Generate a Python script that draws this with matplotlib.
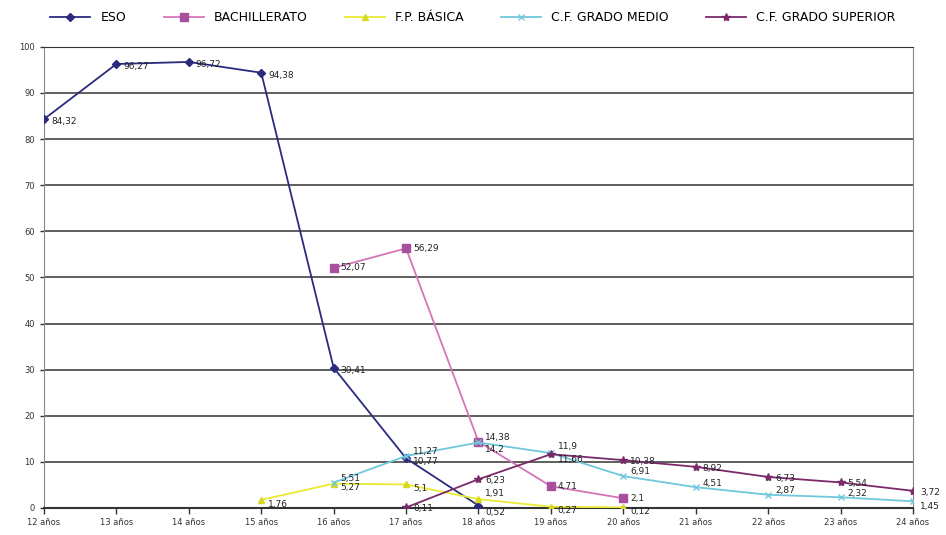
import matplotlib
matplotlib.use("Agg")
import matplotlib.pyplot as plt
import numpy as np

# categorias (edades) y series
edades = ["12 años", "13 años", "14 años", "15 años", "16 años", "17 años", "18 años",
          "19 años", "20 años", "21 años", "22 años", "23 años", "24 años"]

eso = [84.32, 96.27, 96.72, 94.38, 30.41, 10.77, 0.52, None, None, None, None, None, None]
bachillerato = [None, None, None, None, 52.07, 56.29, 14.38, 4.71, 2.1, None, None, None, None]
fp_basica = [None, None, None, 1.76, 5.27, 5.1, 1.91, 0.27, 0.12, None, None, None, None]
grado_medio = [None, None, None, None, 5.51, 11.27, 14.2, 11.9, 6.91, 4.51, 2.87, 2.32, 1.45]
grado_superior = [None, None, None, None, None, 0.11, 6.23, 11.66, 10.38, 8.92, 6.73, 5.54, 3.72]

# (nombre, valores, color linea, color marcador, marcador, tamaño, desplazamiento vertical etiqueta)
series = [
    ("ESO", eso, "#2B2B7E", "#2B2B7E", "D", 4, -2),
    ("BACHILLERATO", bachillerato, "#D475B8", "#A8509E", "s", 6, 0),
    ("F.P. BÁSICA", fp_basica, "#EAEA30", "#D8D820", "^", 5, -3),
    ("C.F. GRADO MEDIO", grado_medio, "#70C8DC", "#70C8DC", "x", 5, 3),
    ("C.F. GRADO SUPERIOR", grado_superior, "#7A2A6A", "#7A2A6A", "*", 6, -1),
]
# ajustes puntuales para que las etiquetas no se pisen
ajuste_dy = {("ESO", 6): -5, ("BACHILLERATO", 6): 3, ("F.P. BÁSICA", 6): 4,
             ("C.F. GRADO MEDIO", 6): -5, ("C.F. GRADO MEDIO", 7): 5,
             ("C.F. GRADO SUPERIOR", 7): -4, ("C.F. GRADO MEDIO", 12): -4}

fig = plt.figure(figsize=(9.46, 5.35), dpi=100)
ax = fig.add_axes([0.0465, 0.0505, 0.9186, 0.862])

x = np.arange(len(edades))
for name, vals, lc, mc, mk, ms, dy in series:
    xs = [i for i, v in zip(x, vals) if v is not None]
    ys = [v for v in vals if v is not None]
    ax.plot(xs, ys, color=lc, lw=1.3, marker=mk, markersize=ms,
            markerfacecolor=mc, markeredgecolor=mc, label=name, zorder=3)
    for xi, yi in zip(xs, ys):
        d = ajuste_dy.get((name, int(xi)), dy)
        ax.annotate(f"{yi:g}".replace(".", ","), (xi, yi), xytext=(5, d),
                    textcoords="offset points", ha="left", va="center",
                    fontsize=6.5, color="#222222", zorder=4, annotation_clip=False)

ax.set_xlim(0, len(edades) - 1)
ax.set_ylim(0, 100)
ax.set_xticks(x)
ax.set_xticklabels(edades, fontsize=6, color="#333333")
ax.set_yticks(np.arange(0, 101, 10))
ax.set_yticklabels([str(v) for v in range(0, 101, 10)], fontsize=6, color="#333333")
ax.tick_params(axis="x", length=4, direction="out", color="#333333", width=1)
ax.tick_params(axis="y", length=3, direction="out", color="#333333", width=1)
ax.grid(True, axis="y", color="#333333", lw=1.1, zorder=0)
ax.set_axisbelow(True)
for side in ["left", "right"]:
    ax.spines[side].set_color("#888888")
ax.spines["bottom"].set_color("#333333")
ax.spines["bottom"].set_linewidth(1.5)
ax.spines["top"].set_color("#333333")

fig.legend(loc="upper center", bbox_to_anchor=(0.5, 1.0), ncol=5, frameon=False,
           fontsize=9, handlelength=3.2, columnspacing=3.0)

plt.savefig("out.png", dpi=100)
plt.close()
